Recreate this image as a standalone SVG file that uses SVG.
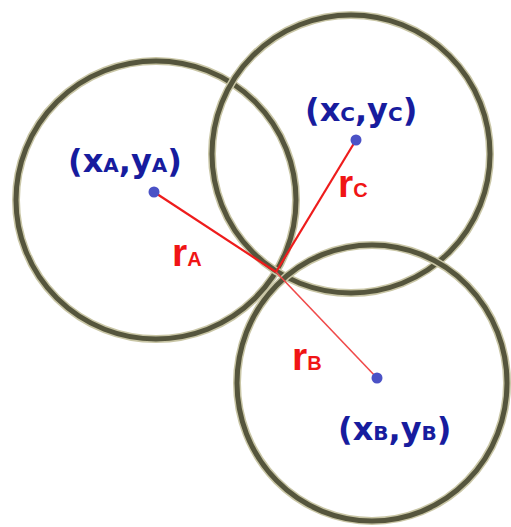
<svg xmlns="http://www.w3.org/2000/svg" width="511" height="527" viewBox="0 0 511 527">
<defs>
<filter id="soft" x="-5%" y="-5%" width="110%" height="110%"><feGaussianBlur stdDeviation="0.7"/></filter>
</defs>
<style>
.halo{fill:none;stroke:#c9c6a6;stroke-width:8}
.ring{fill:none;stroke:#55553c;stroke-width:5}
.dot{fill:#4b52c6}
.lbl{font-family:"DejaVu Sans",sans-serif;font-weight:bold;font-size:32px;fill:#171c9e}
.lbl .s{font-size:20px}
.rl{font-family:"Liberation Sans",Arial,sans-serif;font-weight:bold;font-size:39px;fill:#f01515}
.rl .s{font-size:20px}
.ra{stroke:#ee1c1c;stroke-width:2.2;fill:none}
.rb{stroke:#f04a4a;stroke-width:1.6;fill:none}
</style>
<rect width="511" height="527" fill="#ffffff"/>
<g id="circles" filter="url(#soft)">
<g id="circleA"><ellipse class="halo" cx="156" cy="200" rx="140" ry="139"/><ellipse class="ring" cx="156" cy="200" rx="140" ry="139"/></g>
<g id="circleC"><circle class="halo" cx="351" cy="154" r="139"/><circle class="ring" cx="351" cy="154" r="139"/></g>
<g id="circleB"><ellipse class="halo" cx="372" cy="383" rx="135" ry="138"/><ellipse class="ring" cx="372" cy="383" rx="135" ry="138"/></g>
</g>
<g id="connectors">
<line class="ra" x1="154" y1="192" x2="276" y2="272"/>
<line class="ra" x1="356" y1="140" x2="276" y2="272"/>
<line class="rb" x1="276" y1="272" x2="377" y2="378"/>
</g>
<g id="nodeA">
<circle class="dot" cx="154" cy="192" r="5.5"/>
<text class="lbl" x="68" y="172">(x<tspan class="s">A</tspan>,y<tspan class="s">A</tspan>)</text>
<text class="rl" x="172" y="266">r<tspan class="s">A</tspan></text>
</g>
<g id="nodeC">
<circle class="dot" cx="356" cy="140" r="5.5"/>
<text class="lbl" x="305" y="121">(x<tspan class="s">C</tspan>,y<tspan class="s">C</tspan>)</text>
<text class="rl" x="338" y="197">r<tspan class="s">C</tspan></text>
</g>
<g id="nodeB">
<circle class="dot" cx="377" cy="378" r="5.5"/>
<text class="lbl" x="338" y="440">(x<tspan class="s">B</tspan>,y<tspan class="s">B</tspan>)</text>
<text class="rl" x="292" y="370">r<tspan class="s">B</tspan></text>
</g>
</svg>
